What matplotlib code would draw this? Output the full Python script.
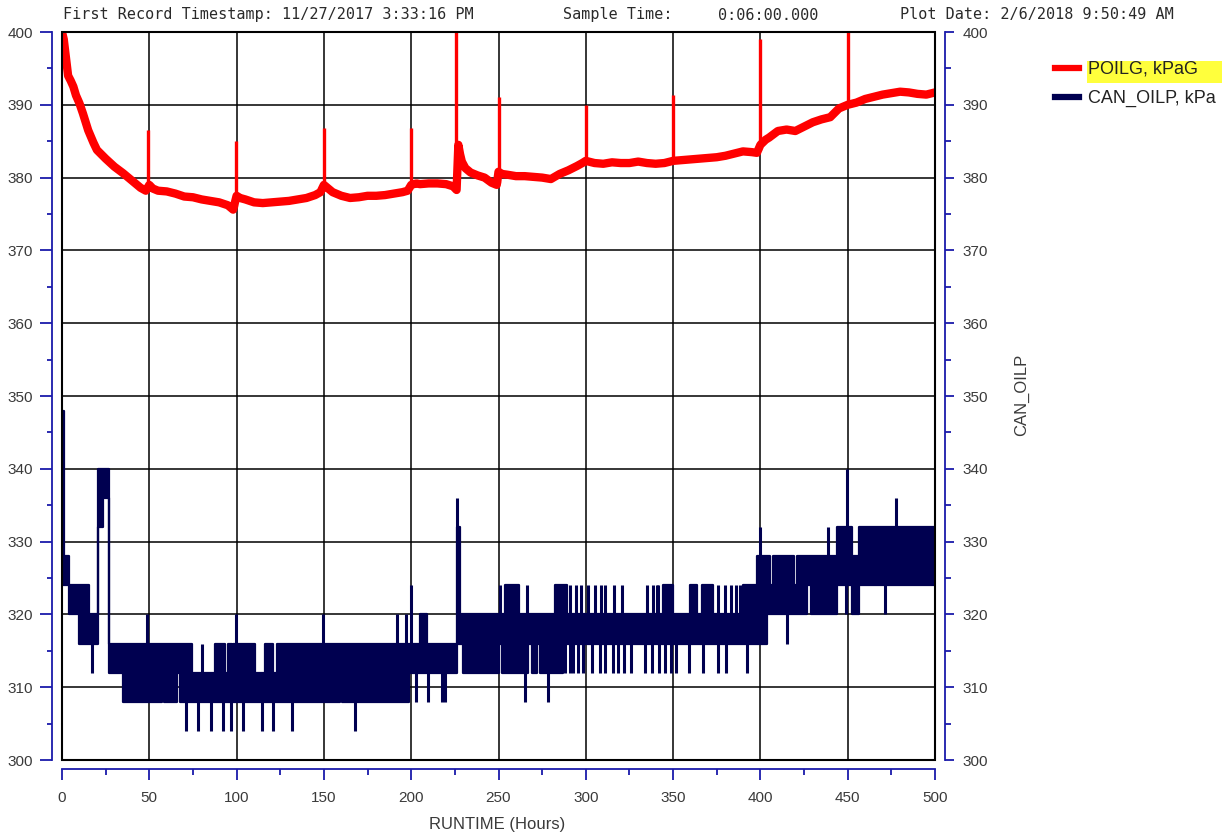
import matplotlib
matplotlib.use('Agg')
import matplotlib.pyplot as plt
from matplotlib.patches import Rectangle
from matplotlib.lines import Line2D
from matplotlib.ticker import MultipleLocator

# POILG, kPaG -- trend of the trace (spikes listed separately below)
poilg_hours = [0, 1, 2, 2.8, 3.5, 5, 6.5, 8, 10, 12, 15, 18, 20, 25, 30, 35, 40, 45, 48,
               50, 52, 55, 60, 65, 70, 75, 80, 85, 90, 95, 98, 100, 102, 105, 110, 115,
               120, 125, 130, 135, 140, 145, 148, 150, 152, 155, 160, 165, 170, 175, 180,
               185, 190, 195, 198, 200, 203, 205, 210, 215, 220, 224, 226, 227, 228, 229,
               231, 234, 238, 242, 246, 249, 250, 252, 255, 260, 265, 270, 275, 280, 285,
               290, 295, 298, 300, 305, 310, 315, 320, 325, 330, 335, 340, 345, 350, 355,
               360, 365, 370, 375, 380, 385, 390, 395, 398, 400, 403, 405, 410, 415, 420,
               425, 430, 435, 440, 445, 448, 450, 455, 460, 465, 470, 475, 480, 485, 490,
               495, 500]
poilg_values = [400, 399, 397, 395.5, 394, 393.3, 392.5, 391.3, 390.2, 388.8, 386.5, 384.8,
                383.8, 382.6, 381.5, 380.6, 379.6, 378.6, 378.2, 379, 378.5, 378.2, 378.1,
                377.8, 377.4, 377.3, 377, 376.8, 376.6, 376.2, 375.6, 377.5, 377.2, 377,
                376.6, 376.5, 376.6, 376.7, 376.8, 377, 377.2, 377.6, 378, 379, 378.6, 378,
                377.5, 377.2, 377.3, 377.5, 377.5, 377.6, 377.8, 378, 378.2, 379, 379.2,
                379.1, 379.2, 379.2, 379.1, 378.8, 378.3, 384.5, 383.2, 382.2, 381.3, 380.7,
                380.3, 380, 379.3, 379, 380.8, 380.5, 380.4, 380.2, 380.2, 380.1, 380,
                379.8, 380.5, 381, 381.6, 382, 382.3, 382, 381.9, 382.1, 382, 382, 382.2,
                382, 381.9, 382, 382.3, 382.4, 382.5, 382.6, 382.7, 382.8, 383, 383.3,
                383.6, 383.5, 383.4, 384.5, 385.2, 385.5, 386.4, 386.6, 386.4, 387, 387.6,
                388, 388.3, 389.5, 389.8, 390, 390.3, 390.8, 391.1, 391.4, 391.6, 391.8,
                391.7, 391.5, 391.4, 391.7]

poilg_spike_hours = [49.5, 99.7, 150, 200, 225.7, 250, 300, 350, 400, 450]
poilg_spike_base = [378.5, 376, 378.2, 378.4, 378.5, 379.2, 382.2, 382.2, 383.8, 389.9]
poilg_spike_peak = [386.5, 385, 386.8, 386.8, 401, 391.1, 390, 391.3, 399.1, 401]

# CAN_OILP, kPa -- quantised signal, min/max band for each stretch (steps)
can_hours = [0, 1.2, 4, 10, 15.6, 20.8, 23.5, 27, 35, 57, 58.5, 66, 67.5, 74.3, 87.6,
             93.4, 95.3, 97.2, 98.1, 110.5, 116.2, 121, 122.9, 159, 160.5, 199, 205.3,
             209.2, 226.5, 228, 229.5, 250, 251.8, 253.5, 261.5, 267, 269, 272, 273.8,
             282.5, 287.1, 289.1, 344.5, 350.2, 359.7, 363.6, 366.4, 373.1, 390.3, 398,
             403.7, 405.6, 407.5, 419, 420.9, 426.7, 429, 443.8, 452.4, 456.2, 500]
can_low = [324, 324, 320, 316, 316, 332, 336, 312, 308, 312, 308, 312, 308, 308, 308,
           308, 308, 308, 308, 308, 308, 308, 308, 312, 308, 312, 312,
           312, 316, 316, 312, 316, 312, 312, 312, 316, 312, 316, 312,
           312, 316, 316, 316, 316, 316, 316, 316, 316, 316, 316,
           320, 320, 320, 320, 320, 324, 320, 324, 320, 324, 324]
can_high = [348, 328, 324, 324, 320, 340, 340, 316, 316, 316, 316, 316, 316, 312, 316,
            312, 316, 312, 316, 312, 316, 312, 316, 316, 316, 316, 320,
            316, 332, 320, 320, 320, 320, 324, 320, 320, 320, 320, 320,
            324, 324, 320, 324, 320, 324, 320, 324, 320, 324, 328,
            328, 324, 328, 324, 328, 328, 328, 332, 328, 332, 332]

# single-sample excursions, grouped by the level they reach
can_dips_304 = [70.8, 78.1, 85.3, 92.4, 96.6, 103.8, 114.3, 121, 131.5, 167.8]
can_dips_308 = [202.7, 209.7, 217.5, 219.5, 265.2, 278.5]
can_dips_312 = [17.4, 288.1, 290.9, 292.8, 295.7, 298.5, 303.3, 308.1, 310.9, 315.7,
                318.6, 322, 326, 334, 338, 342, 345.5, 349, 351.5, 359, 367, 375.5,
                380.5, 392.5]
can_dips_316 = [415.2]
can_dips_320 = [449.2, 471.5]
can_rises_316 = [80]
can_rises_320 = [48.9, 99.7, 149.7, 192, 197]
can_rises_324 = [250.9, 266.5, 291, 294.5, 297.5, 301, 305, 308.5, 311, 316, 320.5,
                 335, 338.7, 340.5, 341.6, 376, 380, 383, 386, 388.4]
can_rises_324_from316 = [199.9]
can_rises_332 = [400, 438.5]
can_rises_336 = [226.3, 477.8]
can_rises_340 = [449.6]

W, H = 1231, 835
RED = '#FF0000'
NAVY = '#000050'
AXBLUE = '#1A1AAA'
LABEL = '#3A3A3A'


def px(x, y):
    return x / W, 1 - y / H


plt.rcParams['font.family'] = ['Liberation Sans', 'DejaVu Sans']

fig = plt.figure(figsize=(W / 100, H / 100), dpi=100)
ax = fig.add_axes([62 / W, 1 - 760 / H, 873 / W, 728 / H])
ax.set_xlim(0, 500)
ax.set_ylim(300, 400)

ax.set_axisbelow(True)
ax.grid(True, which='major', color='black', lw=1.1)
ax.xaxis.set_major_locator(MultipleLocator(50))
ax.xaxis.set_minor_locator(MultipleLocator(25))
ax.yaxis.set_major_locator(MultipleLocator(10))
ax.yaxis.set_minor_locator(MultipleLocator(5))

# CAN_OILP band + edges + excursions
ax.fill_between(can_hours, can_low, can_high, step='post', color=NAVY, lw=0, zorder=3)
ax.step(can_hours, can_high, where='post', color=NAVY, lw=1.6, zorder=3)
ax.step(can_hours, can_low, where='post', color=NAVY, lw=1.6, zorder=3)
spikes = [(308, 304, can_dips_304), (312, 308, can_dips_308), (316, 312, can_dips_312),
          (320, 316, can_dips_316), (324, 320, can_dips_320), (312, 316, can_rises_316),
          (316, 320, can_rises_320), (320, 324, can_rises_324),
          (316, 324, can_rises_324_from316), (328, 332, can_rises_332),
          (316, 336, can_rises_336[:1]), (332, 336, can_rises_336[1:]),
          (332, 340, can_rises_340)]
for lo, hi, hrs in spikes:
    ax.vlines(hrs, min(lo, hi), max(lo, hi), color=NAVY, lw=2.2, zorder=3)

# POILG trace
ax.plot(poilg_hours, poilg_values, color=RED, lw=6, zorder=4, solid_joinstyle='round')
ax.vlines(poilg_spike_hours, poilg_spike_base, poilg_spike_peak, color=RED, lw=2.4, zorder=4)

for s in ['top', 'right']:
    ax.spines[s].set_visible(False)
ax.spines['left'].set_position(('outward', 7.2))
ax.spines['bottom'].set_position(('outward', 6.5))
for s in ['left', 'bottom']:
    ax.spines[s].set_color(AXBLUE)
    ax.spines[s].set_linewidth(1.3)
ax.tick_params(axis='y', which='major', length=8.6, width=1.3, color=AXBLUE,
               labelcolor=LABEL, labelsize=11, pad=5)
ax.tick_params(axis='y', which='minor', length=3.6, width=1.3, color=AXBLUE)
ax.tick_params(axis='x', which='major', length=7.7, width=1.3, color=AXBLUE,
               labelcolor=LABEL, labelsize=11, pad=8)
ax.tick_params(axis='x', which='minor', length=4, width=1.3, color=AXBLUE)

ax.add_patch(Rectangle((0, 0), 1, 1, transform=ax.transAxes, fill=False,
                       edgecolor='black', lw=1.5, zorder=5, clip_on=False))

ax2 = ax.twinx()
ax2.set_ylim(300, 400)
ax2.yaxis.set_major_locator(MultipleLocator(10))
ax2.yaxis.set_minor_locator(MultipleLocator(5))
for s in ['top', 'left', 'bottom']:
    ax2.spines[s].set_visible(False)
ax2.spines['right'].set_position(('outward', 7.2))
ax2.spines['right'].set_color(AXBLUE)
ax2.spines['right'].set_linewidth(1.3)
ax2.tick_params(axis='y', which='major', length=6.5, width=1.3, color=AXBLUE,
                labelcolor=LABEL, labelsize=11, pad=6)
ax2.tick_params(axis='y', which='minor', length=4, width=1.3, color=AXBLUE)

fig.text(*px(497, 825), 'RUNTIME (Hours)', ha='center', va='center', fontsize=12, color=LABEL)
fig.text(*px(1022, 395), 'CAN_OILP', rotation=90, ha='center', va='center',
         fontsize=12, color=LABEL)

mono = dict(family='DejaVu Sans Mono', fontsize=10.9, color='#2A2A2A', va='center')
fig.text(*px(63, 15), 'First Record Timestamp: 11/27/2017 3:33:16 PM', **mono)
fig.text(*px(563, 15), 'Sample Time:', **mono)
fig.text(*px(718, 15), '0:06:00.000', **mono)
fig.text(*px(900, 15), 'Plot Date: 2/6/2018 9:50:49 AM', **mono)

# legend
x0, y0 = px(1087, 83)
x1, y1 = px(1222, 61)
fig.add_artist(Rectangle((x0, y0), x1 - x0, y1 - y0, transform=fig.transFigure,
                         facecolor='#FFFF3C', edgecolor='none'))
for y, col, lab in [(68, RED, 'POILG, kPaG'), (97, NAVY, 'CAN_OILP, kPa')]:
    xa, ya = px(1055, y)
    xb, _ = px(1079, y)
    fig.add_artist(Line2D([xa, xb], [ya, ya], color=col, lw=4.5, transform=fig.transFigure))
    fig.text(*px(1088, y + 1.5), lab, ha='left', va='center', fontsize=13, color='#222222')

fig.savefig('out.png', dpi=100)
